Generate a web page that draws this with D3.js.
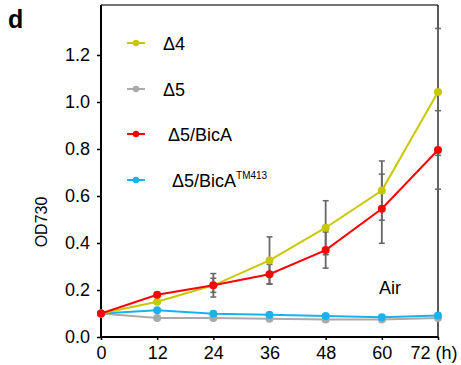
<!DOCTYPE html>
<html><head><meta charset="utf-8">
<script src="https://cdn.jsdelivr.net/npm/d3@7/dist/d3.min.js"></script>
<style>body{margin:0;background:#fff}svg{display:block;font-family:"Liberation Sans",Arial,sans-serif}</style>
</head><body><svg id="c" width="461" height="365"></svg>
<script>
const hours = [0, 12, 24, 36, 48, 60, 72];
const yTicks = [0, 0.2, 0.4, 0.6, 0.8, 1.0, 1.2];
const yMax = 1.413;
const seriesNames = ["Δ4", "Δ5", "Δ5/BicA", "Δ5/BicA"];
const seriesSup = ["", "", "", "TM413"];
const seriesColors = ["#c8c800", "#aaaaaa", "#ff0000", "#1ab2ee"];
const d4 = [0.10, 0.15, 0.22, 0.326, 0.465, 0.623, 1.043];
const d5 = [0.10, 0.081, 0.081, 0.078, 0.074, 0.074, 0.081];
const bicA = [0.10, 0.18, 0.22, 0.267, 0.37, 0.546, 0.796];
const bicATM = [0.10, 0.114, 0.099, 0.095, 0.089, 0.084, 0.091];
const d4Err = [0, 0, 0.05, 0.10, 0.115, 0.126, 0.27];
const bicAErr = [0, 0, 0.03, 0.042, 0.077, 0.147, 0.167];

const svg = d3.select("#c");
const x = d3.scaleLinear().domain([0, 72]).range([101, 438]);
const y = d3.scaleLinear().domain([0, 1.2]).range([337, 55]);

// frame top & right
svg.append("line").attr("x1", x(0)).attr("x2", x(72)).attr("y1", y(yMax)).attr("y2", y(yMax))
  .attr("stroke", "#444").attr("stroke-width", 1.5);
svg.append("line").attr("x1", x(72)).attr("x2", x(72)).attr("y1", y(yMax)).attr("y2", y(0))
  .attr("stroke", "#222").attr("stroke-width", 1.5);

// axes
const gy = svg.append("g").attr("transform", `translate(${x(0)},0)`)
  .call(d3.axisLeft(y).tickValues(yTicks).tickFormat(d3.format(".1f")).tickSize(4).tickPadding(7));
gy.select(".domain").remove();
gy.append("line").attr("x1", 0).attr("x2", 0).attr("y1", y(yMax)).attr("y2", y(0)).attr("stroke", "#000").attr("stroke-width", 2);
gy.selectAll("text").attr("font-size", 18).attr("fill", "#000").attr("font-family", "Liberation Sans, Arial, sans-serif");
gy.selectAll(".tick line").attr("stroke", "#000").attr("stroke-width", 1.5);

const gx = svg.append("g").attr("transform", `translate(0,${y(0)})`)
  .call(d3.axisBottom(x).tickValues(hours).tickFormat(d => d === 72 ? "72 (h)" : d).tickSize(3).tickPadding(6));
gx.select(".domain").attr("stroke", "#000").attr("stroke-width", 2).attr("d", `M${x(0)},0H${x(72)}`);
gx.selectAll(".tick line").attr("stroke", "#000").attr("stroke-width", 1.5);
gx.selectAll("text").attr("font-size", 18).attr("fill", "#000").attr("font-family", "Liberation Sans, Arial, sans-serif")
  .attr("dx", d => d === 72 ? -4.5 : 0);

// y label
svg.append("text").attr("transform", "translate(47,222) rotate(-90)").attr("text-anchor", "middle")
  .attr("font-size", 16).text("OD730");
// panel letter
svg.append("text").attr("x", 8).attr("y", 28).attr("font-size", 25).attr("font-weight", "bold").text("d");
// Air
svg.append("text").attr("x", 379).attr("y", 294).attr("font-size", 18).text("Air");

// error bars
function errBars(vals, errs) {
  const g = svg.append("g");
  hours.forEach((h, i) => {
    if (!errs[i]) return;
    const t = y(vals[i] + errs[i]), b = y(vals[i] - errs[i]), cx = x(h);
    g.append("line").attr("x1", cx).attr("x2", cx).attr("y1", t).attr("y2", b).attr("stroke", "#666").attr("stroke-width", 1.8);
    [t, b].forEach(yy => g.append("line").attr("x1", cx - 3).attr("x2", cx + 3).attr("y1", yy).attr("y2", yy).attr("stroke", "#666").attr("stroke-width", 1.5));
  });
}
errBars(d4, d4Err);
errBars(bicA, bicAErr);

const allSeries = [d4, d5, bicA, bicATM];
const drawOrder = [1, 3, 0, 2];
const line = d3.line().x((d, i) => x(hours[i])).y(d => y(d));
drawOrder.forEach(k => {
  svg.append("path").datum(allSeries[k]).attr("d", line).attr("fill", "none")
    .attr("stroke", seriesColors[k]).attr("stroke-width", 2);
  svg.append("g").selectAll("circle").data(allSeries[k]).join("circle")
    .attr("cx", (d, i) => x(hours[i])).attr("cy", d => y(d)).attr("r", 4).attr("fill", seriesColors[k]);
});

// legend
const legY = [43, 89, 134, 180];
const legTx = [163, 163, 168, 172];
seriesNames.forEach((n, k) => {
  const g = svg.append("g");
  g.append("line").attr("x1", 127).attr("x2", 145).attr("y1", legY[k]).attr("y2", legY[k]).attr("stroke", seriesColors[k]).attr("stroke-width", 2);
  g.append("circle").attr("cx", 136).attr("cy", legY[k]).attr("r", 3.2).attr("fill", seriesColors[k]);
  const t = g.append("text").attr("x", legTx[k]).attr("y", legY[k] + 6.5).attr("font-size", 18).text(n);
  if (seriesSup[k]) t.append("tspan").attr("font-size", 10).attr("dy", -7.5).text(seriesSup[k]);
});
</script></body></html>
